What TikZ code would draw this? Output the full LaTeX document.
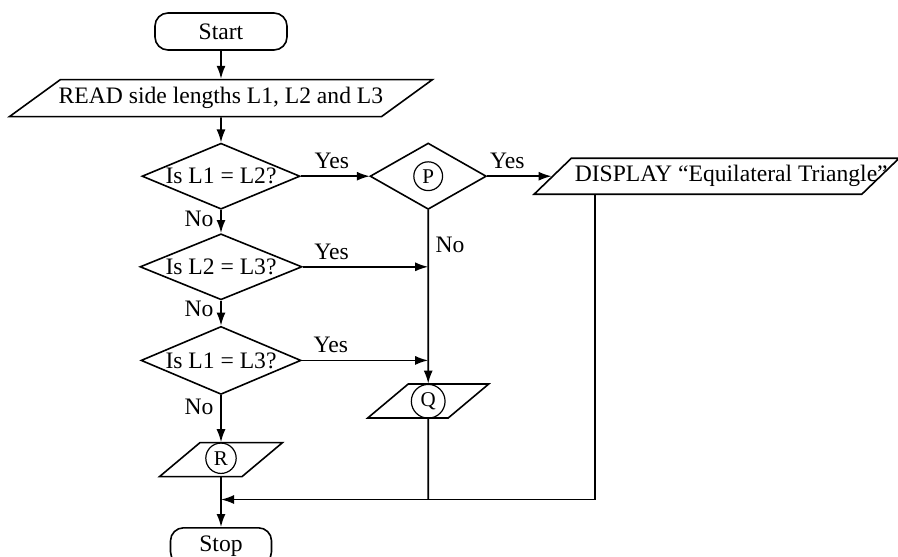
\documentclass[tikz,border=0pt]{standalone}
\usepackage{fontspec}
\setmainfont{Liberation Serif}
\usetikzlibrary{positioning,shapes.geometric,arrows.meta,calc}

\newcommand{\markletter}[1]{\tikz[baseline=(ml.base)]\node[draw,circle,anchor=center,
    minimum width=0pt,minimum height=0pt,text height=,text depth=,inner sep=1.9pt,line width=0.6pt,
    font=\fontsize{10.5}{12}\selectfont](ml){#1};}

\begin{document}
\begin{tikzpicture}[x=0.5pt, y=0.5pt, line width=0.8pt,
    font=\fontsize{11.8}{14}\selectfont,
    >={Latex[length=6.5pt,width=4.5pt]},
    term/.style={rectangle, rounded corners=6.5pt, draw, minimum height=18.5pt},
    io/.style={trapezium, trapezium stretches body=true, draw, inner xsep=0pt,
        text height=8pt, text depth=2.5pt,
        trapezium left angle=#1, trapezium right angle=180-#1},
    decide/.style={diamond, aspect=2.4, draw, inner sep=0pt}]
    \useasboundingbox (0,0) rectangle (898,-556);
    % main column
    \node[term, minimum width=66pt] (start) at (221,-31.5) {Start};
    \node[io=36, below=14pt of start, minimum width=211.5pt, inner ysep=4pt]
        (read) {\makebox[160pt]{READ side lengths L1, L2 and L3}};
    \node[decide, below=12.5pt of read, minimum width=79pt, minimum height=33pt] (d1) {Is L1 = L2?};
    \node[decide, below=11.5pt of d1, minimum width=81pt, minimum height=33pt] (d2) {Is L2 = L3?};
    \node[decide, below=12.5pt of d2, minimum width=80pt, minimum height=34pt] (d3) {Is L1 = L3?};
    \node[io=40, below=23.5pt of d3, minimum width=61.5pt, inner ysep=3.25pt] (outr) {\markletter{R}};
    \node[term, below=25pt of outr, minimum width=50.5pt] (stop) {Stop};
    % right part
    \node[decide, right=34.5pt of d1, minimum width=58pt, minimum height=33pt] (p) {\markletter{P}};
    \node[io=44, anchor=left side, minimum width=182.5pt, inner ysep=3.75pt]
        (disp) at ([xshift=32.5pt]p.east) {\makebox[145pt]{\hspace*{14.6pt}DISPLAY “Equilateral Triangle”}};
    \node[io=40, below=87pt of p, minimum width=60.5pt, inner ysep=3.25pt] (outq) {\markletter{Q}};

    \coordinate (merge) at ($(outr.south)!0.45!(stop.north)$);
    \coordinate (dispfoot) at ($(disp.bottom left corner)!0.19!(disp.bottom right corner)$);

    \draw[->] (start) -- (read);
    \draw[->] (read) -- (d1);
    \draw[->] (d1) -- node[above, pos=0.45]{Yes} (p);
    \draw[->] (p) -- node[above, pos=0.32]{Yes} (disp.left side);
    \draw[->] (d1) -- node[left, pos=0.4]{No} (d2);
    \draw[->] (d2) -- node[left, pos=0.35]{No} (d3);
    \draw[->] (d3) -- node[left, pos=0.25]{No} (outr);
    \draw[->] (p) -- node[right, pos=0.2]{No} (outq);
    \draw[->] (d2) -- node[above, pos=0.23]{Yes} (d2 -| p);
    \draw[->] (d3) -- node[above, pos=0.23]{Yes} (d3 -| p);
    \draw[->] (outr) -- (stop);
    \draw[->] (dispfoot) |- (merge);
    \draw (outq) -- (outq |- merge);
\end{tikzpicture}
\end{document}
